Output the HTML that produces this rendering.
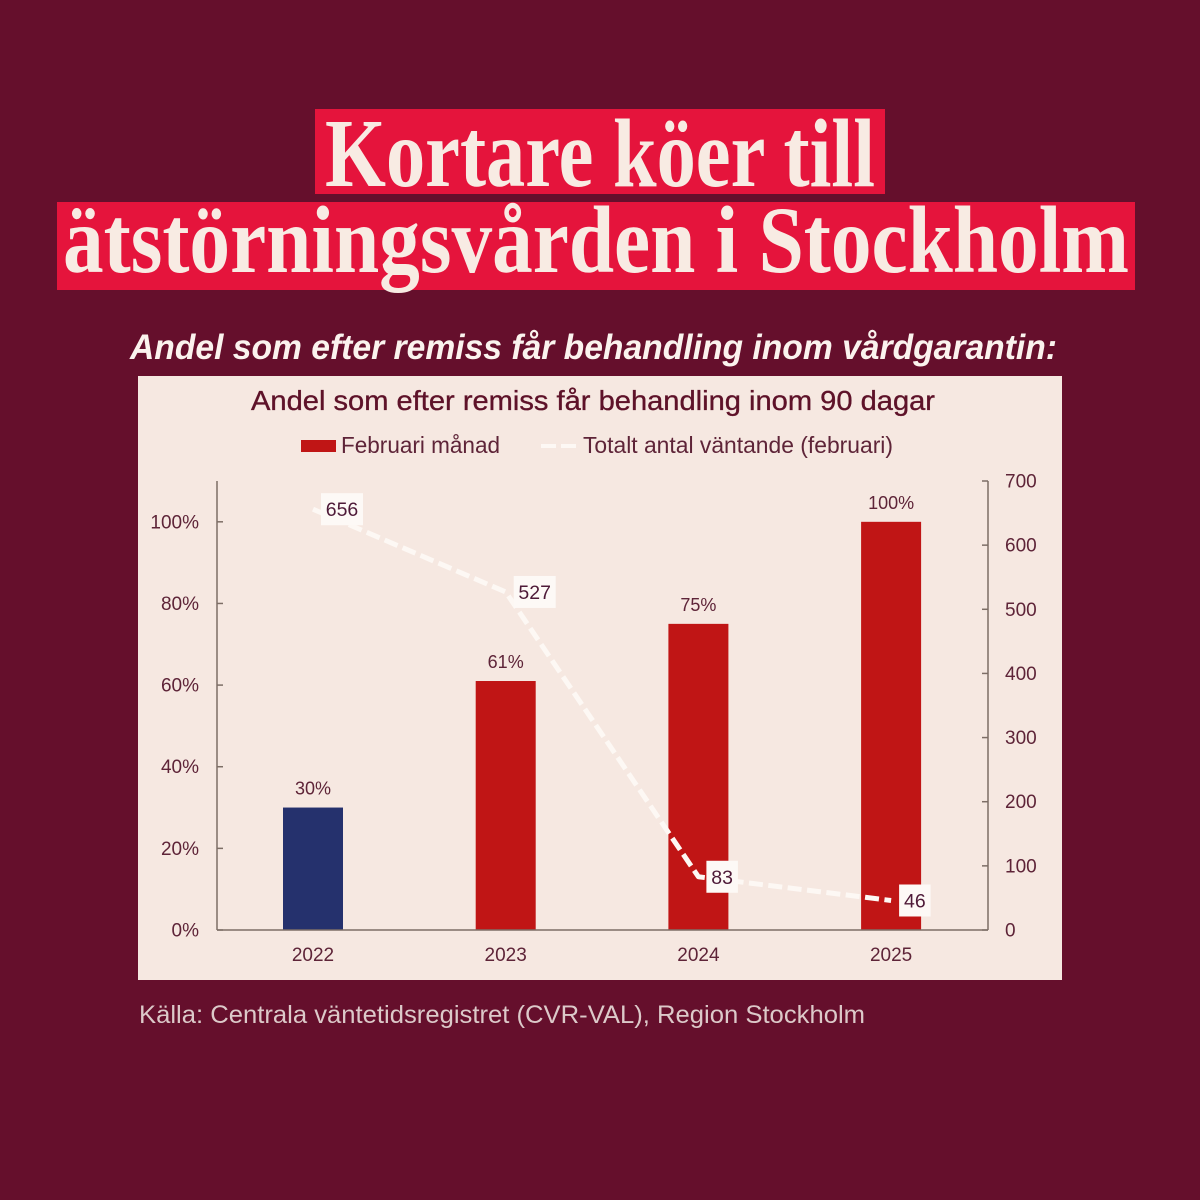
<!DOCTYPE html>
<html lang="sv">
<head>
<meta charset="utf-8">
<title>Kortare köer till ätstörningsvården i Stockholm</title>
<style>
html,body{margin:0;padding:0;width:1200px;height:1200px;overflow:hidden;background:#650f2c}
svg{display:block}
text{font-family:"Liberation Sans",sans-serif}
</style>
</head>
<body>
<svg id="chart" xmlns="http://www.w3.org/2000/svg" width="1200" height="1200" viewBox="0 0 1200 1200">
  <rect x="0" y="0" width="1200" height="1200" fill="#650f2c"/>
  <rect x="315" y="109" width="570" height="85" fill="#e5143c"/>
  <rect x="57" y="202" width="1078" height="88" fill="#e5143c"/>
  <text x="325" y="186" textLength="550" lengthAdjust="spacingAndGlyphs" font-size="97" font-weight="700" fill="#f8ebe3" style="font-family:'Liberation Serif',serif">Kortare köer till</text>
  <text x="63" y="272" textLength="1066" lengthAdjust="spacingAndGlyphs" font-size="95" font-weight="700" fill="#f8ebe3" style="font-family:'Liberation Serif',serif">ätstörningsvården i Stockholm</text>
  <text x="130" y="359" textLength="927" lengthAdjust="spacingAndGlyphs" font-size="35" font-weight="700" font-style="italic" fill="#fbf3ee">Andel som efter remiss får behandling inom vårdgarantin:</text>
  <rect x="138" y="376" width="924" height="604" fill="#f6e8e1"/>
  <text x="251" y="410" textLength="684" lengthAdjust="spacingAndGlyphs" font-size="28" fill="#5e1229" stroke="#5e1229" stroke-width="0.35">Andel som efter remiss får behandling inom 90 dagar</text>
  <rect x="301" y="440" width="35" height="12" fill="#c01515"/>
  <text x="341" y="453" textLength="159" lengthAdjust="spacingAndGlyphs" font-size="23" fill="#5e2438">Februari månad</text>
  <line x1="541" y1="446" x2="576" y2="446" stroke="#fdf8f4" stroke-width="4" stroke-dasharray="15 5"/>
  <text x="583" y="453" textLength="310" lengthAdjust="spacingAndGlyphs" font-size="23" fill="#5e2438">Totalt antal väntande (februari)</text>
  <g id="plot"></g>
  <text x="139" y="1023" textLength="726" lengthAdjust="spacingAndGlyphs" font-size="25" fill="#dcc9c9">Källa: Centrala väntetidsregistret (CVR-VAL), Region Stockholm</text>
</svg>
<script>
var categories = ['2022', '2023', '2024', '2025'];
var shareValues = [30, 61, 75, 100];
var waitingValues = [656, 527, 83, 46];
var shareTicks = [0, 20, 40, 60, 80, 100];
var waitingTicks = [0, 100, 200, 300, 400, 500, 600, 700];
var highlightYear = '2022';

var NS = 'http://www.w3.org/2000/svg';
var plot = document.getElementById('plot');
var left = 217, right = 988, bottom = 930, top_ = 481;
var step = 192.7, firstX = 313, barWidth = 60;
var inkColor = '#5e2438', axisColor = '#7d6e66';

function xPos(i) { return firstX + step * i; }
function yShare(v) { return bottom - (v / 110) * (bottom - top_); }
function yWaiting(v) { return bottom - (v / 700) * (bottom - top_); }

function make(tag, attrs, text) {
  var el = document.createElementNS(NS, tag);
  for (var k in attrs) { el.setAttribute(k, attrs[k]); }
  if (text !== undefined) { el.textContent = text; }
  plot.appendChild(el);
  return el;
}

var el;
shareValues.forEach(function (v, i) {
  el = make('rect', { x: xPos(i) - barWidth / 2, y: yShare(v), width: barWidth, height: bottom - yShare(v), fill: categories[i] === highlightYear ? '#25316d' : '#c01515' });
  
  
  el = make('text', { x: xPos(i), y: yShare(v) - 13, 'text-anchor': 'middle', 'font-size': 18, fill: inkColor }, v + '%');
  
  
  el = make('text', { x: xPos(i), y: 961, 'text-anchor': 'middle', 'font-size': 19, fill: inkColor }, categories[i]);
  
  
});

el = make('line', { x1: left, y1: top_, x2: left, y2: bottom, stroke: axisColor, 'stroke-width': 1.5 });


el = make('line', { x1: right, y1: top_, x2: right, y2: bottom, stroke: axisColor, 'stroke-width': 1.5 });


el = make('line', { x1: left, y1: bottom, x2: right, y2: bottom, stroke: axisColor, 'stroke-width': 1.5 });



shareTicks.forEach(function (t) {
  el = make('line', { x1: left, y1: yShare(t), x2: left + 6, y2: yShare(t), stroke: axisColor, 'stroke-width': 1.5 });
  
  
  el = make('text', { x: 199, y: yShare(t) + 6.5, 'text-anchor': 'end', 'font-size': 19, fill: inkColor }, t + '%');
  
  
});

waitingTicks.forEach(function (t) {
  el = make('line', { x1: right - 6, y1: yWaiting(t), x2: right, y2: yWaiting(t), stroke: axisColor, 'stroke-width': 1.5 });
  
  
  el = make('text', { x: 1005, y: yWaiting(t) + 6.5, 'text-anchor': 'start', 'font-size': 19, fill: inkColor }, String(t));
  
  
});

var linePoints = waitingValues.map(function (v, i) { return xPos(i) + ',' + yWaiting(v); }).join(' ');
el = make('polyline', { points: linePoints, fill: 'none', stroke: '#fdf8f4', 'stroke-width': 5, 'stroke-dasharray': '14 5.5', 'stroke-linejoin': 'round' });



waitingValues.forEach(function (v, i) {
  var boxW = String(v).length * 10.5 + 10.5;
  var cx = xPos(i) + boxW / 2 + 8;
  el = make('rect', { x: cx - boxW / 2, y: yWaiting(v) - 16, width: boxW, height: 32, fill: '#fdf9f6' });
  
  
  el = make('text', { x: cx, y: yWaiting(v) + 7, 'text-anchor': 'middle', 'font-size': 19.5, fill: '#4e1a38' }, String(v));
  
  
});
</script>
</body>
</html>
